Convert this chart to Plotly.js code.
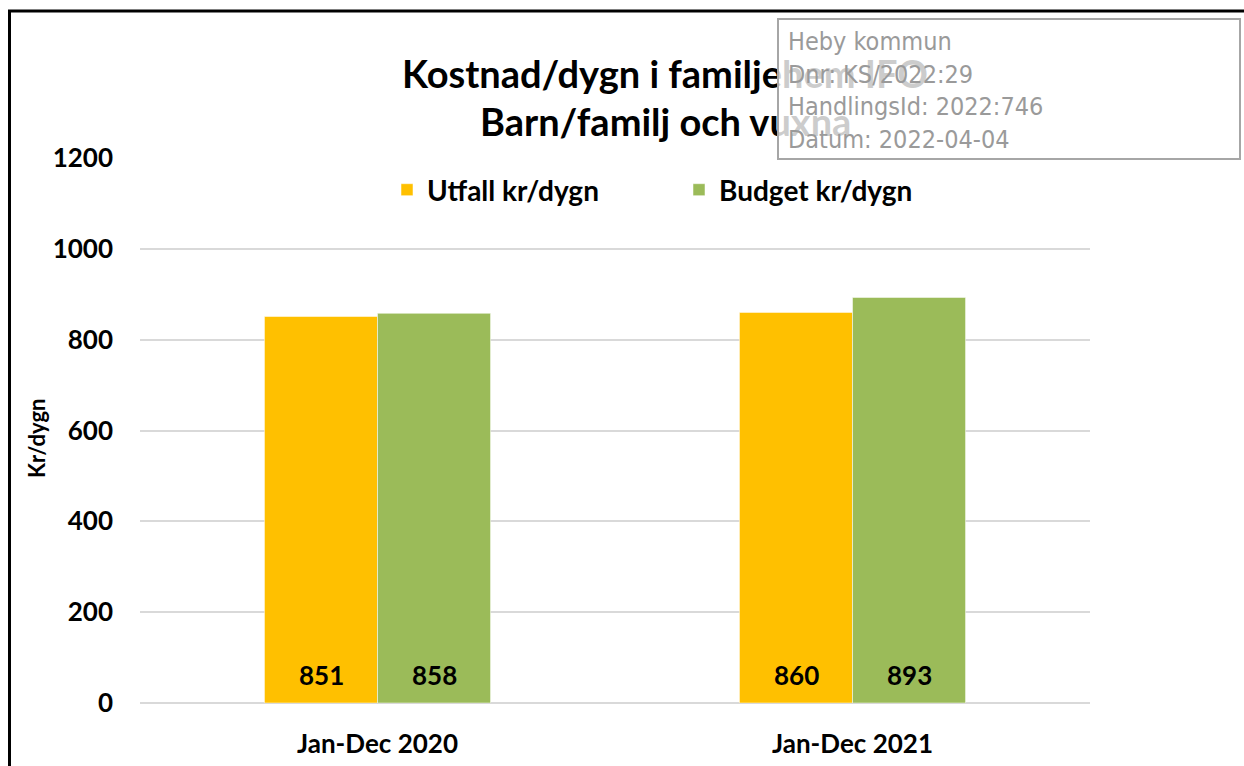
<!DOCTYPE html>
<html>
<head>
<meta charset="utf-8">
<script src="https://cdn.plot.ly/plotly-3.0.1.min.js"></script>
<style>html,body{margin:0;padding:0;background:#fff;}#chart{width:1244px;height:766px;}</style>
</head>
<body>
<div id="chart"></div>
<script>
var categories = ["Jan-Dec 2020", "Jan-Dec 2021"];
var utfall = [851, 860];
var budget = [858, 893];
var seriesNames = ["Utfall kr/dygn", "Budget kr/dygn"];
var titleLines = ["Kostnad/dygn i familjehem IFO", "Barn/familj och vuxna"];
var yAxisTitle = "Kr/dygn";
var stampLines = ["Heby kommun", "Dnr: KS/2022:29", "HandlingsId: 2022:746", "Datum: 2022-04-04"];

var FONT = "Lato, 'Open Sans', sans-serif";
var STAMPFONT = "'DejaVu Sans Condensed', 'DejaVu Sans', sans-serif";
var L = 140, R = 1090, T = 158, B = 703;
function px(x){ return (x - L) / (R - L); }
function py(y){ return (B - y) / (B - T); }

var colors = ["#FFC000", "#9BBB59"];
var seriesValues = [utfall, budget];

var traces = seriesValues.map(function(vals, i){
  return {
    type: "bar", x: categories, y: vals, name: seriesNames[i],
    marker: {color: colors[i], line: {color: "rgba(255,255,255,0.5)", width: 1}},
    hoverinfo: "x+y+name"
  };
});

// data labels near bar bases, positioned from the data via the axes
var labelAnns = [];
seriesValues.forEach(function(vals, i){
  vals.forEach(function(v, j){
    labelAnns.push({xref: "x", yref: "y", x: categories[j], y: 0, xshift: (i === 0 ? -56.5 : 56.5), yshift: 28,
      xanchor: "center", yanchor: "middle", showarrow: false, text: String(v),
      font: {family: FONT, size: 26, color: "#000", weight: "bold"}});
  });
});

var annotations = [
  {xref: "paper", yref: "paper", x: px(665), y: py(73), xanchor: "center", yanchor: "middle", showarrow: false,
   text: titleLines[0], font: {family: FONT, size: 38, color: "#000", weight: "bold"}},
  {xref: "paper", yref: "paper", x: px(665), y: py(121), xanchor: "center", yanchor: "middle", showarrow: false,
   text: titleLines[1], font: {family: FONT, size: 38, color: "#000", weight: "bold"}},
  {xref: "paper", yref: "paper", x: px(36), y: py(439), xanchor: "center", yanchor: "middle", showarrow: false,
   textangle: -90, text: yAxisTitle, font: {family: FONT, size: 22, color: "#000", weight: "bold"}},
  // stamp box
  {xref: "paper", yref: "paper", x: px(777), y: py(18), xanchor: "left", yanchor: "top", showarrow: false,
   width: 456, height: 134, borderpad: 2, text: " ",
   bgcolor: "rgba(255,255,255,0.8)", bordercolor: "#a6a6a6", borderwidth: 2,
   font: {family: STAMPFONT, size: 10, color: "#9a9a9a"}},
  // stamp text
  {xref: "paper", yref: "paper", x: px(787), y: py(26), xanchor: "left", yanchor: "top", showarrow: false,
   align: "left", borderpad: 0, text: stampLines.join("<br>"),
   font: {family: STAMPFONT, size: 25, color: "#9a9a9a"}}
].concat(labelAnns);

var layout = {
  width: 1244, height: 766,
  margin: {l: L, r: 1244 - R, t: T, b: 766 - B, pad: 0},
  paper_bgcolor: "#fff", plot_bgcolor: "#fff",
  barmode: "group", bargap: 0.524, bargroupgap: 0,
  showlegend: true,
  legend: {orientation: "h", x: px(387), xanchor: "left", y: py(190), yanchor: "middle",
           font: {family: FONT, size: 28, color: "#000", weight: "bold"},
           bgcolor: "rgba(0,0,0,0)", entrywidth: 247, entrywidthmode: "pixels", traceorder: "normal"},
  xaxis: {showgrid: false, zeroline: false, showline: false, ticks: "",
          ticklabelstandoff: 23,
          tickfont: {family: FONT, size: 26, color: "#000", weight: "bold"}},
  yaxis: {range: [0, 1200], dtick: 200, tick0: 0, showgrid: true, gridcolor: "#d9d9d9", gridwidth: 2,
          zeroline: true, zerolinecolor: "#d9d9d9", zerolinewidth: 2, showline: false, ticks: "",
          ticklabelstandoff: 26,
          tickfont: {family: FONT, size: 26, color: "#000", weight: "bold"}},
  shapes: [
    {type: "rect", xref: "paper", yref: "paper", x0: px(9.5), x1: px(1400), y0: py(900), y1: py(11),
     line: {color: "#000", width: 3}, fillcolor: "rgba(0,0,0,0)", layer: "below"}
  ],
  annotations: annotations
};

Plotly.newPlot("chart", traces, layout, {displayModeBar: false, staticPlot: true});
</script>
</body>
</html>
